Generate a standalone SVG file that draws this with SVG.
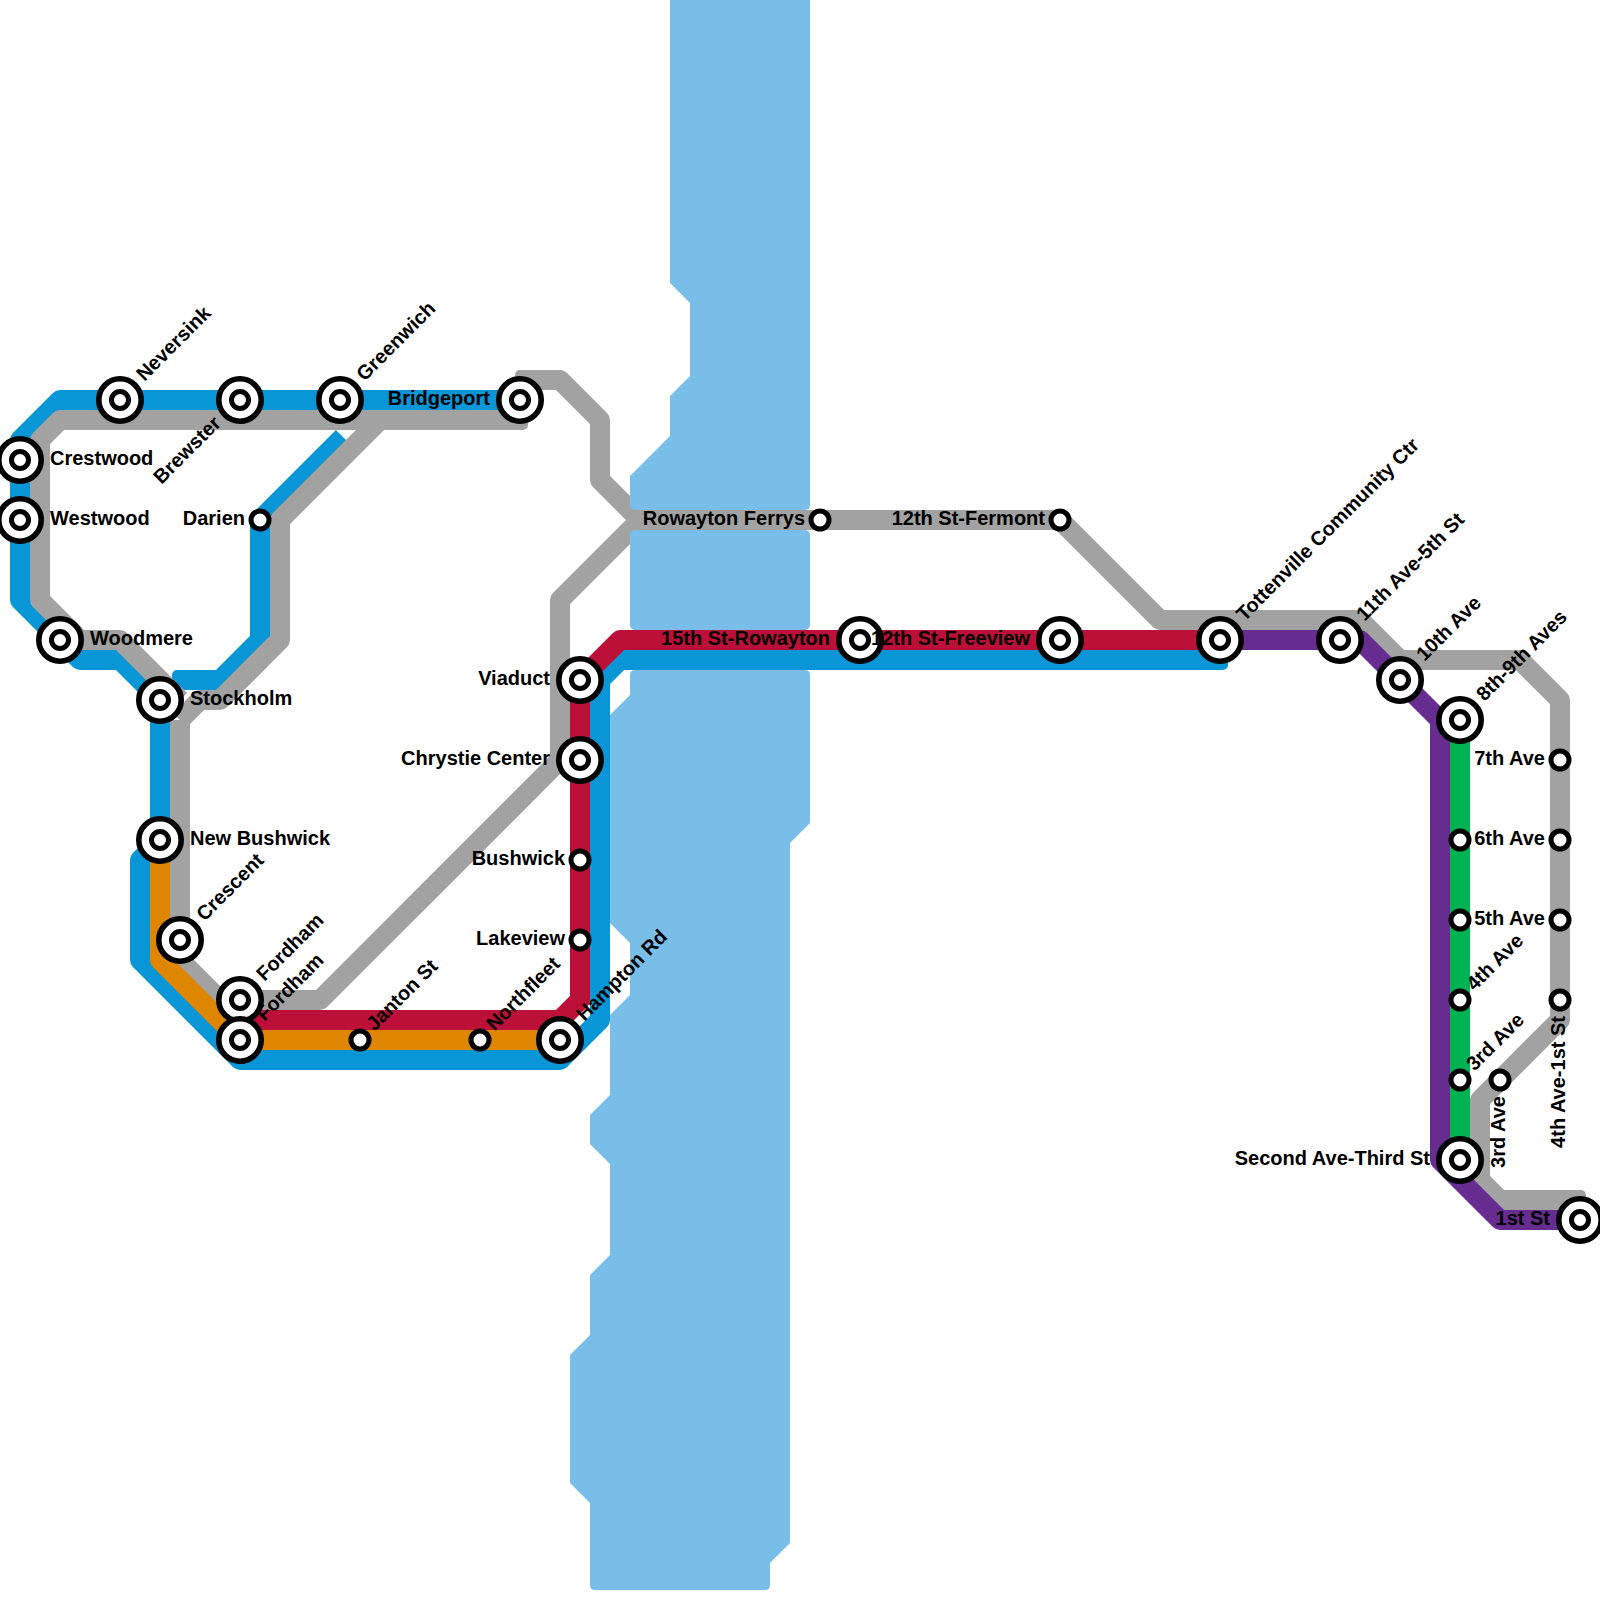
<svg xmlns="http://www.w3.org/2000/svg" width="1600" height="1600" viewBox="0 0 1600 1600">
<style>
.bg{fill:#fff}
.water{fill:#79bde9}
#connectors path{fill:none;stroke-width:20;stroke-linejoin:round}
.blue{stroke:#0896d7}.grey{stroke:#a2a2a2}.orange{stroke:#df8600}.red{stroke:#bd1038}.purple{stroke:#662c90}.green{stroke:#00b251}
.fb{fill:#0896d7}.fg{fill:#a2a2a2}
circle{fill:#fff;stroke:#000;stroke-width:5}
circle.o{stroke-width:5.6}
text{font-family:"Liberation Sans",Arial,sans-serif;font-weight:700;font-size:20px;fill:#000}
.e{text-anchor:end}
</style>
<rect class="bg" width="1600" height="1600"/>
<g id="connectors">
<path class="blue" d="M520 400H60L20 440V600L80 660H120L160 700V840L140 860V960L240 1060H560L600 1020V680L620 660H1220"/>
<path class="blue" d="M182 680H220L260 640V520L343 437"/>
<rect class="fb" x="1208" y="650" width="20" height="20" rx="5"/>
<rect class="fb" x="172" y="670" width="20" height="20" rx="5"/>
<path class="grey" d="M518 420H60L40 440V600L80 640H120L180 700"/>
<path class="grey" d="M180 720V960L220 1000H320L560 760V600L640 520L600 480V420L560 380H525"/>
<path class="grey" d="M180 720L200 700H220L280 640V520L380 420"/>
<path class="grey" d="M640 520H1060L1160 620H1360L1400 660H1520L1560 700V1020L1480 1100V1180L1500 1200H1576"/>
<rect class="fg" x="508" y="410" width="20" height="20" rx="5"/>
<rect class="fg" x="515" y="370" width="20" height="20" rx="5"/>
<rect class="fg" x="1566" y="1190" width="20" height="20" rx="5"/>
<path class="orange" d="M160 840V960L240 1040H560"/>
<path class="red" d="M240 1020H560L580 1000V680L620 640H1220"/>
<path class="purple" d="M1220 640H1360L1440 720V1160L1500 1220H1580"/>
<path class="green" d="M1460 720V1160"/>
</g>
<g id="water">
<path class="water" d="M670 0V283L690 303V376L670 396V436L630 476V505Q630 510 635 510H805Q810 510 810 505V0Z"/>
<rect class="water" x="630" y="530" width="180" height="100" rx="5"/>
<path class="water" d="M635 670H805Q810 670 810 675V823L790 843V1543L770 1563V1585Q770 1590 765 1590H595Q590 1590 590 1585V1503L570 1483V1355L590 1335V1275L610 1255V1164L590 1144V1115L610 1095V1015L630 995V943L610 923V715L630 695V675Q630 670 635 670Z"/>
</g>
<g id="stations">
<g id="s-neversink" transform="translate(120 400)"><circle class="o" r="21.2"/><circle r="8.5"/><text transform="rotate(-45) translate(30 4.5)">Neversink</text></g>
<g id="s-brewster" transform="translate(240 400)"><circle class="o" r="21.2"/><circle r="8.5"/><text class="e" transform="rotate(-45) translate(-30 4.5)">Brewster</text></g>
<g id="s-greenwich" transform="translate(340 400)"><circle class="o" r="21.2"/><circle r="8.5"/><text transform="rotate(-45) translate(30 4.5)">Greenwich</text></g>
<g id="s-bridgeport" transform="translate(520 400)"><circle class="o" r="21.2"/><circle r="8.5"/><text class="e" x="-30" y="5">Bridgeport</text></g>
<g id="s-crestwood" transform="translate(20 460)"><circle class="o" r="21.2"/><circle r="8.5"/><text x="30" y="5">Crestwood</text></g>
<g id="s-westwood" transform="translate(20 520)"><circle class="o" r="21.2"/><circle r="8.5"/><text x="30" y="5">Westwood</text></g>
<g id="s-woodmere" transform="translate(60 640)"><circle class="o" r="21.2"/><circle r="8.5"/><text x="30" y="5">Woodmere</text></g>
<g id="s-darien" transform="translate(260 520)"><circle r="9"/><text class="e" x="-15" y="5">Darien</text></g>
<g id="s-stockholm" transform="translate(160 700)"><circle class="o" r="21.2"/><circle r="8.5"/><text x="30" y="5">Stockholm</text></g>
<g id="s-new-bushwick" transform="translate(160 840)"><circle class="o" r="21.2"/><circle r="8.5"/><text x="30" y="5">New Bushwick</text></g>
<g id="s-crescent" transform="translate(180 940)"><circle class="o" r="21.2"/><circle r="8.5"/><text transform="rotate(-45) translate(30 4.5)">Crescent</text></g>
<g id="s-fordham-a" transform="translate(240 1000)"><circle class="o" r="21.2"/><circle r="8.5"/><text transform="rotate(-45) translate(30 4.5)">Fordham</text></g>
<g id="s-fordham-b" transform="translate(240 1040)"><circle class="o" r="21.2"/><circle r="8.5"/><text transform="rotate(-45) translate(30 4.5)">Fordham</text></g>
<g id="s-janton" transform="translate(360 1040)"><circle r="9"/><text transform="rotate(-45) translate(16 4.5)">Janton St</text></g>
<g id="s-northfleet" transform="translate(480 1040)"><circle r="9"/><text transform="rotate(-45) translate(16 4.5)">Northfleet</text></g>
<g id="s-hampton" transform="translate(560 1040)"><circle class="o" r="21.2"/><circle r="8.5"/><text transform="rotate(-45) translate(30 4.5)">Hampton Rd</text></g>
<g id="s-viaduct" transform="translate(580 680)"><circle class="o" r="21.2"/><circle r="8.5"/><text class="e" x="-30" y="5">Viaduct</text></g>
<g id="s-chrystie" transform="translate(580 760)"><circle class="o" r="21.2"/><circle r="8.5"/><text class="e" x="-30" y="5">Chrystie Center</text></g>
<g id="s-bushwick" transform="translate(580 860)"><circle r="9"/><text class="e" x="-15" y="5">Bushwick</text></g>
<g id="s-lakeview" transform="translate(580 940)"><circle r="9"/><text class="e" x="-15" y="5">Lakeview</text></g>
<g id="s-rowayton-ferrys" transform="translate(820 520)"><circle r="9"/><text class="e" x="-15" y="5">Rowayton Ferrys</text></g>
<g id="s-fermont" transform="translate(1060 520)"><circle r="9"/><text class="e" x="-15" y="5">12th St-Fermont</text></g>
<g id="s-15th" transform="translate(860 640)"><circle class="o" r="21.2"/><circle r="8.5"/><text class="e" x="-30" y="5">15th St-Rowayton</text></g>
<g id="s-freeview" transform="translate(1060 640)"><circle class="o" r="21.2"/><circle r="8.5"/><text class="e" x="-30" y="5">12th St-Freeview</text></g>
<g id="s-tottenville" transform="translate(1220 640)"><circle class="o" r="21.2"/><circle r="8.5"/><text transform="rotate(-45) translate(30 4.5)">Tottenville Community Ctr</text></g>
<g id="s-11th" transform="translate(1340 640)"><circle class="o" r="21.2"/><circle r="8.5"/><text transform="rotate(-45) translate(30 4.5)">11th Ave-5th St</text></g>
<g id="s-10th" transform="translate(1400 680)"><circle class="o" r="21.2"/><circle r="8.5"/><text transform="rotate(-45) translate(30 4.5)">10th Ave</text></g>
<g id="s-8th" transform="translate(1460 720)"><circle class="o" r="21.2"/><circle r="8.5"/><text transform="rotate(-45) translate(30 4.5)">8th-9th Aves</text></g>
<g id="s-7th" transform="translate(1560 760)"><circle r="9"/><text class="e" x="-15" y="5">7th Ave</text></g>
<g id="s-6th-a" transform="translate(1460 840)"><circle r="9"/></g>
<g id="s-6th" transform="translate(1560 840)"><circle r="9"/><text class="e" x="-15" y="5">6th Ave</text></g>
<g id="s-5th-a" transform="translate(1460 920)"><circle r="9"/></g>
<g id="s-5th" transform="translate(1560 920)"><circle r="9"/><text class="e" x="-15" y="5">5th Ave</text></g>
<g id="s-4th" transform="translate(1460 1000)"><circle r="9"/><text transform="rotate(-45) translate(16 4.5)">4th Ave</text></g>
<g id="s-4th-1st" transform="translate(1560 1000)"><circle r="9"/><text class="e" transform="rotate(-90) translate(-16 4.5)">4th Ave-1st St</text></g>
<g id="s-3rd-a" transform="translate(1460 1080)"><circle r="9"/><text transform="rotate(-45) translate(16 4.5)">3rd Ave</text></g>
<g id="s-3rd-b" transform="translate(1500 1080)"><circle r="9"/><text class="e" transform="rotate(-90) translate(-16 4.5)">3rd Ave</text></g>
<g id="s-second" transform="translate(1460 1160)"><circle class="o" r="21.2"/><circle r="8.5"/><text class="e" x="-30" y="5">Second Ave-Third St</text></g>
<g id="s-1st" transform="translate(1580 1220)"><circle class="o" r="21.2"/><circle r="8.5"/><text class="e" x="-30" y="5">1st St</text></g>
</g>
</svg>
